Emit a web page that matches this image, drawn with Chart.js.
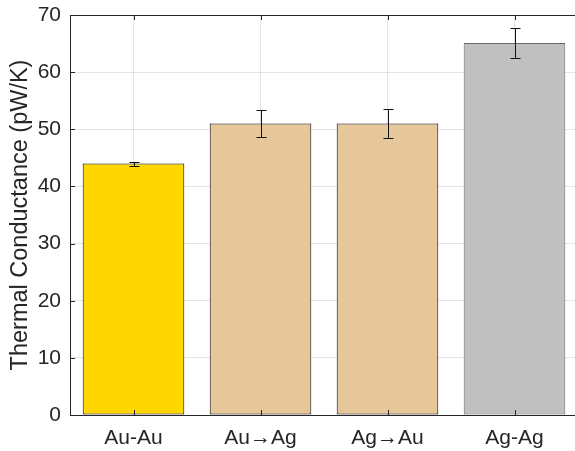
<!DOCTYPE html>
<html>
<head>
<meta charset="utf-8">
<script src="https://cdn.jsdelivr.net/npm/chart.js@4.4.1/dist/chart.umd.min.js"></script>
<style>
  html, body { margin: 0; padding: 0; background: #fff; overflow: hidden; }
  #wrap { width: 578px; height: 451px; position: relative; }
</style>
</head>
<body>
<div id="wrap"><canvas id="c"></canvas></div>
<script>
const categories = ['Au-Au', 'Au\u2192Ag', 'Ag\u2192Au', 'Ag-Ag'];
const conductance = [44.0, 51.0, 51.0, 65.1];
const errors = [0.35, 2.3, 2.6, 2.55];
const fillColors = ['#FFD700', '#E6C79A', '#E6C79A', '#C0C0C0'];
const edgeColors = ['#000000', '#000000', '#000000', '#666666'];
const yTicks = [0, 10, 20, 30, 40, 50, 60, 70];

const AXIS = '#262626';
const FONT = "'Liberation Sans', Arial, Helvetica, sans-serif";

const decor = {
  id: 'decor',
  afterDatasetsDraw(chart) {
    const ctx = chart.ctx;
    const ys = chart.scales.y, xs = chart.scales.x;
    const meta = chart.getDatasetMeta(0);
    ctx.save();
    // error bars
    ctx.strokeStyle = '#111111';
    ctx.lineWidth = 1;
    meta.data.forEach((bar, i) => {
      const x = Math.round(bar.x) + 0.5;
      const yT = Math.round(ys.getPixelForValue(conductance[i] + errors[i])) + 0.5;
      const yB = Math.round(ys.getPixelForValue(conductance[i] - errors[i])) + 0.5;
      ctx.beginPath();
      ctx.moveTo(x, yT); ctx.lineTo(x, yB);
      ctx.moveTo(x - 5, yT); ctx.lineTo(x + 5, yT);
      ctx.moveTo(x - 5, yB); ctx.lineTo(x + 5, yB);
      ctx.stroke();
    });
    const a = chart.chartArea;
    // inward ticks on y axis
    ctx.strokeStyle = AXIS;
    yTicks.forEach(v => {
      const y = Math.round(ys.getPixelForValue(v)) + 0.5;
      ctx.beginPath();
      ctx.moveTo(a.left, y); ctx.lineTo(a.left + 5, y);
      ctx.stroke();
    });
    // inward ticks on x axis
    categories.forEach((c, i) => {
      const x = Math.round(xs.getPixelForValue(i)) + 0.5;
      ctx.beginPath();
      ctx.moveTo(x, a.bottom); ctx.lineTo(x, a.bottom - 5);
      ctx.moveTo(x, a.top); ctx.lineTo(x, a.top + 5);
      ctx.stroke();
    });
    // box
    ctx.beginPath();
    ctx.moveTo(a.left, Math.round(a.top) + 0.5);
    ctx.lineTo(a.right, Math.round(a.top) + 0.5);
    ctx.moveTo(Math.round(a.right) - 0.5, a.top);
    ctx.lineTo(Math.round(a.right) - 0.5, a.bottom);
    ctx.stroke();
    ctx.restore();
  }
};

new Chart(document.getElementById('c'), {
  type: 'bar',
  data: {
    labels: categories,
    datasets: [{
      data: conductance,
      backgroundColor: fillColors,
      borderColor: edgeColors,
      borderWidth: 1,
      borderSkipped: false,
      barPercentage: 0.8,
      categoryPercentage: 1.0
    }]
  },
  options: {
    responsive: true,
    maintainAspectRatio: false,
    animation: false,
    devicePixelRatio: 1,
    layout: { padding: { left: 0, right: 0, top: 15, bottom: 0 } },
    plugins: { legend: { display: false }, tooltip: { enabled: false } },
    scales: {
      x: {
        afterFit(s) { s.height = 36; s.paddingLeft = 0; s.paddingRight = 0; },
        grid: { offset: false, color: 'rgba(38,38,38,0.12)', drawTicks: false },
        border: { color: AXIS, width: 1 },
        ticks: { color: AXIS, font: { family: FONT, size: 21 }, padding: 11, maxRotation: 0 }
      },
      y: {
        min: 0, max: 70,
        afterFit(s) { s.width = 70; s.paddingTop = 0; s.paddingBottom = 0; },
        afterBuildTicks(s) { s.ticks = yTicks.map(v => ({ value: v })); },
        grid: { color: 'rgba(38,38,38,0.12)', drawTicks: false },
        border: { color: AXIS, width: 1 },
        ticks: { color: AXIS, font: { family: FONT, size: 21 }, padding: 9 },
        title: {
          display: true,
          text: 'Thermal Conductance (pW/K)',
          color: AXIS,
          font: { family: FONT, size: 23.5 },
          padding: { top: 6, bottom: 0 }
        }
      }
    }
  },
  plugins: [decor]
});
</script>
</body>
</html>
